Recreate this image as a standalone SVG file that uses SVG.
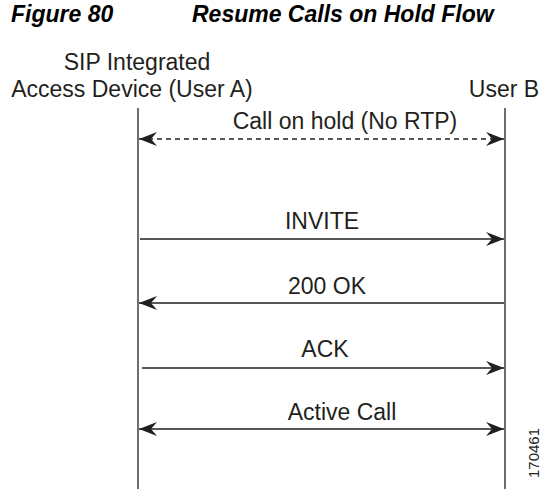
<svg xmlns="http://www.w3.org/2000/svg" width="542" height="489" viewBox="0 0 542 489">
<defs>
<style>
.t{font-family:"Liberation Sans",Arial,sans-serif;font-size:23px;fill:#231f20}
.h{font-family:"Liberation Sans",Arial,sans-serif;font-size:23px;font-weight:bold;font-style:italic;fill:#000}
.l{stroke:#231f20;stroke-width:1.3;fill:none}
.m{stroke:#231f20;stroke-width:1.5;fill:none}
.d{stroke-dasharray:5 4}
</style>
<marker id="ah" viewBox="-19 -8 20 16" refX="0" refY="0" markerUnits="userSpaceOnUse" markerWidth="20" markerHeight="16" orient="auto-start-reverse">
<path d="M0,0 L-18,-7 L-12,0 L-18,7 Z" fill="#231f20"/>
</marker>
</defs>
<rect width="542" height="489" fill="#fff"/>
<g id="title">
<text class="h" x="11" y="22">Figure 80</text>
<text class="h" x="192" y="22">Resume Calls on Hold Flow</text>
</g>
<g id="userA">
<text class="t" x="137" y="70" text-anchor="middle">SIP Integrated</text>
<text class="t" x="132" y="97" text-anchor="middle">Access Device (User A)</text>
<line class="l" x1="138" y1="108" x2="138" y2="489"/>
</g>
<g id="userB">
<text class="t" x="504" y="97" text-anchor="middle">User B</text>
<line class="l" x1="505" y1="108" x2="505" y2="489"/>
</g>
<g id="connectors">
<line class="m d" x1="139" y1="139" x2="504" y2="139" marker-start="url(#ah)" marker-end="url(#ah)"/>
<text class="t" x="345" y="129" text-anchor="middle">Call on hold (No RTP)</text>
<line class="m" x1="140" y1="239" x2="504" y2="239" marker-end="url(#ah)"/>
<text class="t" x="322" y="229" text-anchor="middle">INVITE</text>
<line class="m" x1="504" y1="303" x2="139" y2="303" marker-end="url(#ah)"/>
<text class="t" x="327" y="294" text-anchor="middle">200 OK</text>
<line class="m" x1="142" y1="368" x2="504" y2="368" marker-end="url(#ah)"/>
<text class="t" x="325" y="357" text-anchor="middle">ACK</text>
<line class="m" x1="139" y1="429" x2="504" y2="429" marker-start="url(#ah)" marker-end="url(#ah)"/>
<text class="t" x="342" y="420" text-anchor="middle">Active Call</text>
</g>
<text x="539" y="453" transform="rotate(-90 539 453)" text-anchor="middle" style="font-family:'Liberation Sans',Arial,sans-serif;font-size:15px;fill:#231f20">170461</text>
</svg>
